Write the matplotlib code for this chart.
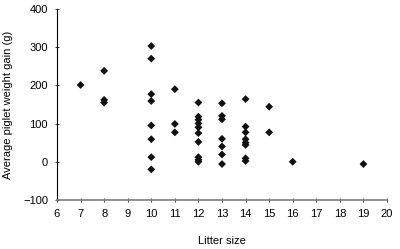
import matplotlib
matplotlib.use("Agg")
import matplotlib.pyplot as plt

plt.rcParams['font.family'] = ['Liberation Sans', 'DejaVu Sans']

# Litter size and average piglet weight gain (g)
litter_size = [7,
	8, 8, 8,
	10, 10, 10, 10, 10, 10, 10, 10,
	11, 11, 11,
	12, 12, 12, 12, 12, 12, 12, 12, 12, 12,
	13, 13, 13, 13, 13, 13, 13,
	14, 14, 14, 14, 14, 14, 14, 14,
	15, 15,
	16,
	19]
weight_gain = [201,
	238, 162, 155,
	303, 270, 177, 159, 95, 59, 12, -20,
	190, 99, 77,
	155, 118, 110, 100, 90, 75, 52, 12, 5, 0,
	153, 120, 111, 60, 40, 19, -6,
	164, 92, 77, 59, 50, 44, 9, 2,
	144, 77,
	0,
	-6]

x_ticks = list(range(6, 21))
y_ticks = [-100, 0, 100, 200, 300, 400]

fig = plt.figure(figsize=(4.0, 2.49), dpi=100)
ax = fig.add_axes([0.1425, 0.197, 0.825, 0.767])

ax.scatter(litter_size, weight_gain, marker="D", s=16, color="#111111",
	edgecolors="none", zorder=3)

ax.set_xlim(6, 20)
ax.set_ylim(-100, 400)
ax.set_xticks(x_ticks)
ax.set_yticks(y_ticks)

for side in ["top", "right"]:
	ax.spines[side].set_visible(False)
ax.spines["bottom"].set_color("#808080")
ax.spines["bottom"].set_linewidth(1.2)
ax.spines["left"].set_color("#000000")
ax.spines["left"].set_linewidth(0.8)

ax.tick_params(axis="both", labelsize=8, color="#404040", length=3, width=0.8,
	direction="inout", pad=5)

ax.set_xlabel("Litter size", fontsize=8, labelpad=12)
ax.set_ylabel("Average piglet weight gain (g)", fontsize=8, labelpad=7)

plt.savefig("out.png", dpi=100)
